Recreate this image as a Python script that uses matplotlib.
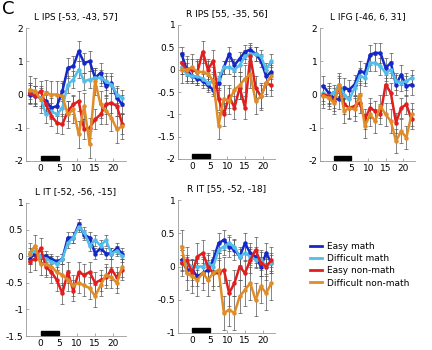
import matplotlib
matplotlib.use('Agg')
import matplotlib.pyplot as plt
import matplotlib.transforms as mtransforms
from matplotlib.patches import Rectangle
from matplotlib.lines import Line2D
from matplotlib.ticker import FormatStrFormatter

plt.rcParams['font.family'] = ['Liberation Sans Narrow', 'DejaVu Sans']

# time points (s), TR = 1.5 s
t = [-3, -1.5, 0, 1.5, 3, 4.5, 6, 7.5, 9, 10.5, 12, 13.5, 15, 16.5, 18, 19.5, 21, 22.5]

conditions = ['Easy math', 'Difficult math', 'Easy non-math', 'Difficult non-math']
colors = ['#1428c8', '#52bde8', '#e01e1e', '#e08c28']

titles = ['L IPS [-53, -43, 57]', 'R IPS [55, -35, 56]', 'L IFG [-46, 6, 31]',
          'L IT [-52, -56, -15]', 'R IT [55, -52, -18]']

lips_easy_math = [0.0, -0.05, -0.1, -0.2, -0.4, -0.35, 0.1, 0.8, 0.85, 1.3, 0.95, 1.0, 0.5, 0.65, 0.25, 0.35, -0.1, -0.3]
lips_diff_math = [0.1, 0.0, -0.1, -0.6, -0.5, -0.6, -0.4, 0.3, 0.45, 0.75, 0.4, 0.45, 0.5, 0.5, 0.4, 0.3, 0.0, -0.1]
lips_easy_non = [0.05, -0.05, 0.1, -0.3, -0.65, -0.85, -0.9, -0.5, -0.3, -0.2, -1.05, -1.0, -0.75, -0.6, -0.3, -0.25, -0.35, -0.9]
lips_diff_non = [0.15, 0.1, -0.15, 0.05, 0.0, 0.0, -0.05, -0.6, -0.45, -1.2, -0.35, -1.5, 0.4, -0.3, -0.5, -0.7, -1.05, -0.95]

rips_easy_math = [0.35, 0.0, -0.15, -0.2, -0.25, -0.35, -0.45, -0.3, 0.05, 0.35, 0.1, 0.25, 0.4, 0.45, 0.35, 0.2, -0.15, -0.05]
rips_diff_math = [0.05, -0.1, -0.15, -0.15, -0.2, -0.3, -0.25, -0.2, 0.05, 0.05, 0.0, 0.1, 0.3, 0.35, 0.35, 0.3, 0.0, 0.2]
rips_easy_non = [0.15, 0.0, 0.0, -0.05, 0.4, 0.0, 0.2, -0.65, -1.0, -0.6, -0.85, -0.4, -0.85, 0.3, -0.4, -0.6, -0.3, -0.35]
rips_diff_non = [0.0, 0.0, 0.05, -0.05, -0.05, -0.1, -0.25, -1.25, -0.65, -0.7, -0.45, -0.35, -0.2, -0.1, -0.7, -0.6, -0.3, -0.15]

lifg_easy_math = [0.25, 0.05, -0.1, -0.15, 0.2, 0.15, 0.3, 0.7, 0.65, 1.2, 1.25, 1.25, 0.8, 0.95, 0.3, 0.6, 0.25, 0.3]
lifg_diff_math = [0.05, -0.05, 0.05, 0.3, 0.0, -0.15, 0.2, 0.55, 0.5, 0.95, 0.95, 0.85, 0.65, 0.75, 0.4, 0.35, 0.4, 0.5]
lifg_easy_non = [0.0, -0.05, -0.2, 0.2, -0.3, -0.4, -0.35, -0.25, -0.75, -0.4, -0.5, -0.6, 0.3, 0.05, -0.85, -0.4, -0.3, -0.75]
lifg_diff_non = [-0.05, -0.1, -0.25, 0.3, -0.5, -0.4, -0.45, 0.0, -0.95, -0.6, -0.8, -0.35, -0.6, -0.8, -1.4, -1.1, -1.3, -0.6]

lit_easy_math = [-0.05, 0.05, 0.0, 0.0, -0.05, -0.1, -0.05, 0.35, 0.35, 0.6, 0.4, 0.35, 0.05, 0.15, 0.05, 0.05, 0.15, 0.05]
lit_diff_math = [0.05, 0.1, 0.0, -0.05, -0.1, -0.15, -0.05, 0.25, 0.35, 0.55, 0.45, 0.2, 0.3, 0.2, 0.3, 0.05, 0.1, 0.0]
lit_easy_non = [-0.1, -0.05, 0.15, -0.2, -0.3, -0.45, -0.7, -0.3, -0.65, -0.3, -0.35, -0.3, -0.5, -0.45, -0.4, -0.25, -0.4, -0.25]
lit_diff_non = [0.05, 0.2, -0.15, -0.15, -0.2, -0.3, -0.35, -0.45, -0.55, -0.5, -0.55, -0.6, -0.75, -0.55, -0.35, -0.4, -0.5, -0.2]

rit_easy_math = [0.1, -0.05, -0.05, -0.15, -0.1, -0.05, 0.1, 0.35, 0.4, 0.3, 0.25, 0.15, 0.35, 0.2, 0.15, 0.0, 0.2, 0.05]
rit_diff_math = [0.05, 0.05, 0.0, 0.0, 0.0, 0.05, 0.0, 0.25, 0.3, 0.35, 0.3, 0.15, 0.2, 0.15, 0.1, 0.1, 0.0, 0.05]
rit_easy_non = [0.05, 0.1, -0.1, 0.15, 0.2, 0.0, -0.1, -0.1, -0.05, -0.4, -0.25, 0.0, -0.1, 0.1, 0.25, 0.05, 0.0, 0.1]
rit_diff_non = [0.3, -0.1, -0.15, -0.2, -0.1, -0.2, -0.1, -0.05, -0.7, -0.65, -0.7, -0.45, -0.35, -0.25, -0.5, -0.3, -0.4, -0.25]

# approximate SEM per condition in each region
sem = [[0.3, 0.25, 0.3, 0.4],
       [0.15, 0.15, 0.25, 0.3],
       [0.3, 0.25, 0.3, 0.35],
       [0.1, 0.1, 0.2, 0.2],
       [0.15, 0.12, 0.2, 0.25]]

data = [[lips_easy_math, lips_diff_math, lips_easy_non, lips_diff_non],
        [rips_easy_math, rips_diff_math, rips_easy_non, rips_diff_non],
        [lifg_easy_math, lifg_diff_math, lifg_easy_non, lifg_diff_non],
        [lit_easy_math, lit_diff_math, lit_easy_non, lit_diff_non],
        [rit_easy_math, rit_diff_math, rit_easy_non, rit_diff_non]]

ylims = [(-2, 2), (-2, 1), (-2, 2), (-1.5, 1), (-1, 1)]
yticks = [[-2, -1, 0, 1, 2],
          [-2, -1.5, -1, -0.5, 0, 0.5, 1],
          [-2, -1, 0, 1, 2],
          [-1.5, -1, -0.5, 0, 0.5, 1],
          [-1, -0.5, 0, 0.5, 1]]

W, H = 432, 350
# axes boxes in pixels: left, top, right, bottom
boxes = [(26, 28, 126, 161),
         (178, 25, 275, 159),
         (320, 28, 415, 161),
         (26, 203, 126, 336),
         (178, 200, 275, 333)]

fig = plt.figure(figsize=(W / 100, H / 100), dpi=100)

for k in range(5):
    l, tp, r, b = boxes[k]
    ax = fig.add_axes([l / W, 1 - b / H, (r - l) / W, (b - tp) / H])
    for j in range(4):
        ax.errorbar(t, data[k][j], yerr=sem[k][j], color=colors[j], lw=1.8,
                    marker='o', ms=2.2, ecolor='#555555', elinewidth=0.5,
                    capsize=1.2, capthick=0.5, zorder=3)
    ax.set_xlim(-4, 23.5)
    ax.set_ylim(*ylims[k])
    ax.set_xticks([0, 5, 10, 15, 20])
    ax.set_yticks(yticks[k])
    ax.yaxis.set_major_formatter(FormatStrFormatter('%g'))
    ax.tick_params(direction='in', length=2, width=0.5, labelsize=6.5, pad=2,
                   color='#888888')
    for s in ['top', 'right']:
        ax.spines[s].set_visible(False)
    for s in ['left', 'bottom']:
        ax.spines[s].set_color('#999999')
        ax.spines[s].set_linewidth(0.6)
    ax.set_title(titles[k], fontsize=6.5, pad=6)
    trans = mtransforms.blended_transform_factory(ax.transData, ax.transAxes)
    ax.add_patch(Rectangle((0, 0.01), 5, 0.03, transform=trans, color='black',
                           clip_on=False, zorder=4))

fig.text(0.005, 1.0, 'C', fontsize=13, va='top', ha='left')

handles = [Line2D([0], [0], color=c, lw=2) for c in colors]
fig.legend(handles, conditions, loc='upper left', bbox_to_anchor=(302 / W, 1 - 234 / H),
           frameon=False, fontsize=6.5, handlelength=1.3, labelspacing=0.35,
           handletextpad=0.6)

fig.savefig('out.png', dpi=100)
